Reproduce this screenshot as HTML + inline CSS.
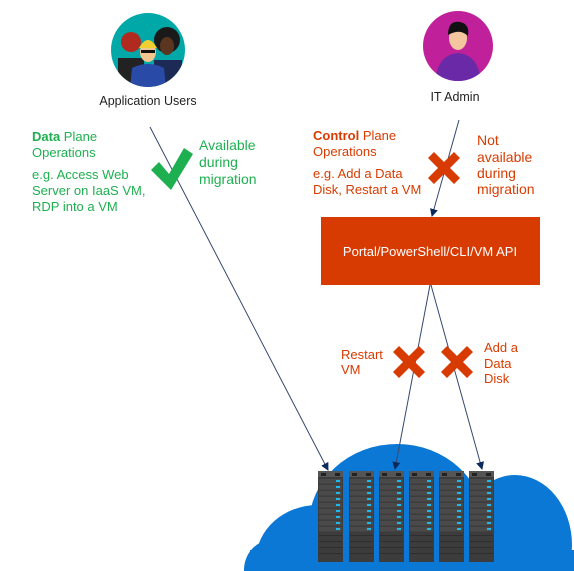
<!DOCTYPE html>
<html><head><meta charset="utf-8"><style>
html,body{margin:0;padding:0;background:#fff;overflow:hidden;width:574px;height:571px;}
svg{display:block;font-family:"Liberation Sans",sans-serif;}
</style></head><body>
<svg width="574" height="571" viewBox="0 0 574 571" xmlns="http://www.w3.org/2000/svg">
<defs>
<marker id="ah" markerWidth="8" markerHeight="8" refX="7" refY="4" orient="auto" markerUnits="userSpaceOnUse"><path d="M0,0 L8,4 L0,8 Z" fill="#0b2a5c"/></marker>
<g id="srv">
<rect x="0" y="0" width="25" height="91" fill="#3c3c3c"/>
<rect x="0" y="0" width="25" height="6" fill="#555"/>
<rect x="3" y="2" width="5" height="3" fill="#222"/><rect x="17" y="2" width="5" height="3" fill="#222"/>
<g fill="#4a4a4a">
<rect x="1" y="8" width="23" height="4.5"/><rect x="1" y="14" width="23" height="4.5"/><rect x="1" y="20" width="23" height="4.5"/><rect x="1" y="26" width="23" height="4.5"/><rect x="1" y="32" width="23" height="4.5"/><rect x="1" y="38" width="23" height="4.5"/><rect x="1" y="44" width="23" height="4.5"/><rect x="1" y="50" width="23" height="4.5"/><rect x="1" y="56" width="23" height="4.5"/>
</g>
<g fill="#1fb8e8">
<rect x="18" y="9" width="4" height="2"/><rect x="18" y="15" width="4" height="2"/><rect x="18" y="21" width="4" height="2"/><rect x="18" y="27" width="4" height="2"/><rect x="18" y="33" width="4" height="2"/><rect x="18" y="39" width="4" height="2"/><rect x="18" y="45" width="4" height="2"/><rect x="18" y="51" width="4" height="2"/><rect x="18" y="57" width="4" height="2"/>
</g>
<g fill="#2e2e2e"><rect x="1" y="64" width="23" height="1"/><rect x="1" y="70" width="23" height="1"/><rect x="1" y="76" width="23" height="1"/><rect x="1" y="82" width="23" height="1"/></g>
</g>
<g id="x"><path d="M-10,-16 L0,-6 L10,-16 L16,-10 L6,0 L16,10 L10,16 L0,6 L-10,16 L-16,10 L-6,0 L-16,-10 Z" fill="#d83b01"/></g>
</defs>

<!-- cloud -->
<g fill="#0a78d4">
<ellipse cx="397" cy="525" rx="88" ry="81"/>
<ellipse cx="515" cy="545" rx="57" ry="70"/>
<ellipse cx="318" cy="560" rx="62" ry="55"/>
<ellipse cx="272" cy="570" rx="28" ry="30"/>
<rect x="250" y="550" width="324" height="21"/>
</g>

<!-- servers -->
<use href="#srv" x="318" y="471"/><use href="#srv" x="349" y="471"/><use href="#srv" x="379" y="471"/>
<use href="#srv" x="409" y="471"/><use href="#srv" x="439" y="471"/><use href="#srv" x="469" y="471"/>

<!-- app users avatar -->
<circle cx="148" cy="50" r="37" fill="#00a8a8"/>
<clipPath id="c1"><circle cx="148" cy="50" r="37"/></clipPath>
<g clip-path="url(#c1)">
<circle cx="131" cy="42" r="10" fill="#b02a20"/><rect x="118" y="58" width="26" height="30" fill="#222"/>
<circle cx="167" cy="40" r="13" fill="#1a1a1a"/><ellipse cx="167" cy="46" rx="7" ry="9" fill="#5a3520"/><rect x="154" y="60" width="28" height="30" fill="#1d2a55"/>
<ellipse cx="148" cy="52" rx="8" ry="10" fill="#f3c690"/><path d="M139,48 Q148,32 157,48 Z" fill="#f0d030"/><rect x="141" y="50" width="14" height="3" fill="#111"/>
<path d="M130,88 L132,68 Q148,60 164,68 L166,88 Z" fill="#2a4aa8"/>
</g>
<text x="148" y="105" font-size="12.5" text-anchor="middle" fill="#222">Application Users</text>

<!-- IT admin avatar -->
<circle cx="458" cy="46" r="35" fill="#c0209a"/>
<clipPath id="c2"><circle cx="458" cy="46" r="35"/></clipPath>
<g clip-path="url(#c2)">
<path d="M435,85 Q436,55 458,53 Q480,55 481,85 Z" fill="#6a2aa8"/>
<ellipse cx="458" cy="38" rx="9" ry="12" fill="#f3c6a0"/>
<path d="M448,35 Q448,20 460,22 Q470,24 468,36 Q460,28 448,35 Z" fill="#111"/>
</g>
<text x="455" y="101" font-size="12.5" text-anchor="middle" fill="#222">IT Admin</text>

<!-- lines -->
<g stroke="#34486e" stroke-width="1" fill="none">
<line x1="150" y1="127" x2="328" y2="470" marker-end="url(#ah)"/>
<line x1="459" y1="120" x2="432" y2="216" marker-end="url(#ah)"/>
<line x1="430" y1="285" x2="395" y2="469" marker-end="url(#ah)"/>
<line x1="431" y1="285" x2="482" y2="469" marker-end="url(#ah)"/>
</g>

<!-- box -->
<rect x="321" y="217" width="219" height="68" fill="#d83b01"/>
<text x="430" y="256" font-size="13" text-anchor="middle" fill="#fff">Portal/PowerShell/CLI/VM API</text>

<!-- data plane text -->
<g fill="#1eb050" font-size="13">
<text x="32" y="141"><tspan font-weight="bold">Data</tspan> Plane</text>
<text x="32" y="157">Operations</text>
<text x="32" y="179">e.g. Access Web</text>
<text x="32" y="195">Server on IaaS VM,</text>
<text x="32" y="211">RDP into a VM</text>
<text x="199" y="150" font-size="14">Available</text>
<text x="199" y="167" font-size="14">during</text>
<text x="199" y="184" font-size="14">migration</text>
</g>
<path d="M151,170 L159,162 L169,174 L184,148 L193,154 L171,190 Z" fill="#1eb050"/>

<!-- control plane text -->
<g fill="#d83b01" font-size="13">
<text x="313" y="140"><tspan font-weight="bold">Control</tspan> Plane</text>
<text x="313" y="156">Operations</text>
<text x="313" y="178">e.g. Add a Data</text>
<text x="313" y="194">Disk, Restart a VM</text>
<text x="477" y="145" font-size="14">Not</text>
<text x="477" y="162" font-size="14">available</text>
<text x="477" y="178" font-size="14">during</text>
<text x="477" y="194" font-size="14">migration</text>
<text x="341" y="359">Restart</text>
<text x="341" y="374">VM</text>
<text x="484" y="352">Add a</text>
<text x="484" y="368">Data</text>
<text x="484" y="383">Disk</text>
</g>
<use href="#x" x="444" y="168"/>
<use href="#x" x="409" y="362"/>
<use href="#x" x="457" y="362"/>
</svg>
</body></html>
